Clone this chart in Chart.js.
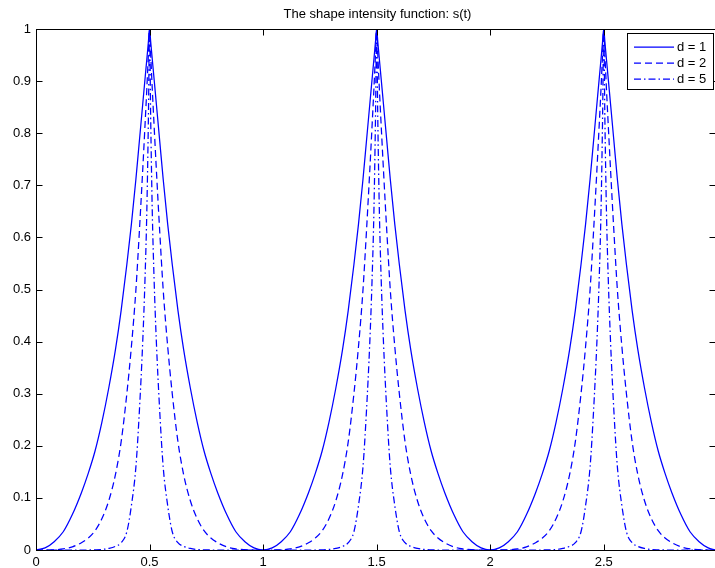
<!DOCTYPE html>
<html>
<head>
<meta charset="utf-8">
<script src="https://cdn.jsdelivr.net/npm/chart.js@4.4.0/dist/chart.umd.min.js"></script>
<style>
  html, body { margin: 0; padding: 0; background: #fff; }
</style>
</head>
<body>
<canvas id="shapeChart" width="715" height="568"></canvas>
<script>
// t values (denser near the peaks at 0.5, 1.5, 2.5)
const tValues = [
  0, 0.04, 0.08, 0.12, 0.16, 0.2, 0.23, 0.26, 0.29, 0.32, 0.35, 0.375, 0.4, 0.42, 0.44, 0.455, 0.47, 0.48, 0.488, 0.495,
  0.5, 0.505, 0.512, 0.52, 0.53, 0.545, 0.56, 0.58, 0.6, 0.625, 0.65, 0.68, 0.71, 0.74, 0.77, 0.8, 0.84, 0.88, 0.92, 0.96,
  1, 1.04, 1.08, 1.12, 1.16, 1.2, 1.23, 1.26, 1.29, 1.32, 1.35, 1.375, 1.4, 1.42, 1.44, 1.455, 1.47, 1.48, 1.488, 1.495,
  1.5, 1.505, 1.512, 1.52, 1.53, 1.545, 1.56, 1.58, 1.6, 1.625, 1.65, 1.68, 1.71, 1.74, 1.77, 1.8, 1.84, 1.88, 1.92, 1.96,
  2, 2.04, 2.08, 2.12, 2.16, 2.2, 2.23, 2.26, 2.29, 2.32, 2.35, 2.375, 2.4, 2.42, 2.44, 2.455, 2.47, 2.48, 2.488, 2.495,
  2.5, 2.505, 2.512, 2.52, 2.53, 2.545, 2.56, 2.58, 2.6, 2.625, 2.65, 2.68, 2.71, 2.74, 2.77, 2.8, 2.84, 2.88, 2.92, 2.96,
  2.99
];

// s(t) for d = 1
const d1Values = [
  0, 0.004, 0.016, 0.035, 0.068, 0.11, 0.147, 0.19, 0.245, 0.31, 0.385, 0.46, 0.548, 0.625, 0.712, 0.784, 0.856, 0.904, 0.942, 0.976,
  1, 0.976, 0.942, 0.904, 0.856, 0.784, 0.712, 0.625, 0.548, 0.46, 0.385, 0.31, 0.245, 0.19, 0.147, 0.11, 0.068, 0.035, 0.016, 0.004,
  0, 0.004, 0.016, 0.035, 0.068, 0.11, 0.147, 0.19, 0.245, 0.31, 0.385, 0.46, 0.548, 0.625, 0.712, 0.784, 0.856, 0.904, 0.942, 0.976,
  1, 0.976, 0.942, 0.904, 0.856, 0.784, 0.712, 0.625, 0.548, 0.46, 0.385, 0.31, 0.245, 0.19, 0.147, 0.11, 0.068, 0.035, 0.016, 0.004,
  0, 0.004, 0.016, 0.035, 0.068, 0.11, 0.147, 0.19, 0.245, 0.31, 0.385, 0.46, 0.548, 0.625, 0.712, 0.784, 0.856, 0.904, 0.942, 0.976,
  1, 0.976, 0.942, 0.904, 0.856, 0.784, 0.712, 0.625, 0.548, 0.46, 0.385, 0.31, 0.245, 0.19, 0.147, 0.11, 0.068, 0.035, 0.016, 0.004,
  0
];

// s(t) for d = 2
const d2Values = [
  0, 0, 0.0005, 0.002, 0.006, 0.014, 0.023, 0.037, 0.06, 0.094, 0.145, 0.208, 0.3, 0.39, 0.5, 0.61, 0.73, 0.815, 0.885, 0.952,
  1, 0.952, 0.885, 0.815, 0.73, 0.61, 0.5, 0.39, 0.3, 0.208, 0.145, 0.094, 0.06, 0.037, 0.023, 0.014, 0.006, 0.002, 0.0005, 0,
  0, 0, 0.0005, 0.002, 0.006, 0.014, 0.023, 0.037, 0.06, 0.094, 0.145, 0.208, 0.3, 0.39, 0.5, 0.61, 0.73, 0.815, 0.885, 0.952,
  1, 0.952, 0.885, 0.815, 0.73, 0.61, 0.5, 0.39, 0.3, 0.208, 0.145, 0.094, 0.06, 0.037, 0.023, 0.014, 0.006, 0.002, 0.0005, 0,
  0, 0, 0.0005, 0.002, 0.006, 0.014, 0.023, 0.037, 0.06, 0.094, 0.145, 0.208, 0.3, 0.39, 0.5, 0.61, 0.73, 0.815, 0.885, 0.952,
  1, 0.952, 0.885, 0.815, 0.73, 0.61, 0.5, 0.39, 0.3, 0.208, 0.145, 0.094, 0.06, 0.037, 0.023, 0.014, 0.006, 0.002, 0.0005, 0,
  0
];

// s(t) for d = 5
const d5Values = [
  0, 0, 0, 0, 0, 0, 0, 0.0003, 0.001, 0.003, 0.007, 0.014, 0.035, 0.085, 0.16, 0.265, 0.4, 0.52, 0.65, 0.83,
  1, 0.83, 0.65, 0.52, 0.4, 0.265, 0.16, 0.085, 0.035, 0.014, 0.007, 0.003, 0.001, 0.0003, 0, 0, 0, 0, 0, 0,
  0, 0, 0, 0, 0, 0, 0, 0.0003, 0.001, 0.003, 0.007, 0.014, 0.035, 0.085, 0.16, 0.265, 0.4, 0.52, 0.65, 0.83,
  1, 0.83, 0.65, 0.52, 0.4, 0.265, 0.16, 0.085, 0.035, 0.014, 0.007, 0.003, 0.001, 0.0003, 0, 0, 0, 0, 0, 0,
  0, 0, 0, 0, 0, 0, 0, 0.0003, 0.001, 0.003, 0.007, 0.014, 0.035, 0.085, 0.16, 0.265, 0.4, 0.52, 0.65, 0.83,
  1, 0.83, 0.65, 0.52, 0.4, 0.265, 0.16, 0.085, 0.035, 0.014, 0.007, 0.003, 0.001, 0.0003, 0, 0, 0, 0, 0, 0,
  0
];

const seriesLabels = ['d = 1', 'd = 2', 'd = 5'];
const xTickValues = [0, 0.5, 1, 1.5, 2, 2.5];
const yTickValues = [0, 0.1, 0.2, 0.3, 0.4, 0.5, 0.6, 0.7, 0.8, 0.9, 1];
const chartTitle = 'The shape intensity function: s(t)';

const FONT = '"Liberation Sans", Arial, Helvetica, sans-serif';
const toPoints = (ys) => tValues.map((t, i) => ({ x: t, y: ys[i] }));

// MATLAB-like frame: box, inward ticks, title and boxed legend
const matlabFrame = {
  id: 'matlabFrame',
  afterDraw(chart) {
    const { ctx, chartArea: a, scales } = chart;
    const L = Math.round(a.left) + 0.5, R = Math.round(a.right) + 0.5;
    const T = Math.round(a.top) + 0.5, B = Math.round(a.bottom) + 0.5;
    const tick = 6;
    ctx.save();
    ctx.strokeStyle = '#000';
    ctx.lineWidth = 1;
    ctx.setLineDash([]);
    ctx.strokeRect(L, T, R - L, B - T);
    ctx.beginPath();
    yTickValues.forEach(v => {
      const y = Math.round(scales.y.getPixelForValue(v)) + 0.5;
      ctx.moveTo(L, y); ctx.lineTo(L + tick, y);
      ctx.moveTo(R, y); ctx.lineTo(R - tick, y);
    });
    xTickValues.forEach(v => {
      const x = Math.round(scales.x.getPixelForValue(v)) + 0.5;
      ctx.moveTo(x, B); ctx.lineTo(x, B - tick);
      ctx.moveTo(x, T); ctx.lineTo(x, T + tick);
    });
    ctx.stroke();

    // title
    ctx.fillStyle = '#000';
    ctx.font = '13px ' + FONT;
    ctx.textAlign = 'center';
    ctx.textBaseline = 'alphabetic';
    ctx.fillText(chartTitle, (a.left + a.right) / 2 + 2, 18);

    // legend
    const lx = 627.5, ly = 33.5, lw = 86, lh = 56;
    ctx.fillStyle = '#fff';
    ctx.fillRect(lx, ly, lw, lh);
    ctx.strokeStyle = '#000';
    ctx.strokeRect(lx, ly, lw, lh);
    ctx.textAlign = 'left';
    ctx.textBaseline = 'middle';
    chart.data.datasets.forEach((ds, i) => {
      const y = Math.round(ly + 13 + i * 16.3);
      ctx.strokeStyle = ds.borderColor;
      ctx.lineWidth = ds.borderWidth;
      ctx.setLineDash(ds.borderDash || []);
      ctx.beginPath();
      ctx.moveTo(634, y);
      ctx.lineTo(674, y);
      ctx.stroke();
      ctx.setLineDash([]);
      ctx.fillStyle = '#000';
      ctx.fillText(ds.label, 677, y + 0.5);
    });
    ctx.restore();
  }
};

const ctx = document.getElementById('shapeChart').getContext('2d');
new Chart(ctx, {
  type: 'line',
  data: {
    datasets: [
      { label: seriesLabels[0], data: toPoints(d1Values), borderColor: '#0000ff', borderWidth: 1.25, borderDash: [] },
      { label: seriesLabels[1], data: toPoints(d2Values), borderColor: '#0000ff', borderWidth: 1.25, borderDash: [7, 4] },
      { label: seriesLabels[2], data: toPoints(d5Values), borderColor: '#0000ff', borderWidth: 1.25, borderDash: [7, 3, 1.5, 3] }
    ]
  },
  options: {
    responsive: false,
    animation: false,
    elements: {
      point: { radius: 0 },
      line: { cubicInterpolationMode: 'monotone', fill: false }
    },
    layout: { padding: { top: 29, left: 0, right: 0, bottom: 0 } },
    plugins: {
      legend: { display: false },
      tooltip: { enabled: false },
      title: { display: false }
    },
    scales: {
      x: {
        type: 'linear',
        min: 0,
        max: 2.99,
        grid: { display: false, drawTicks: false },
        border: { display: false },
        afterBuildTicks: (axis) => { axis.ticks = xTickValues.map(v => ({ value: v })); },
        afterFit: (axis) => { axis.height = 18; },
        ticks: {
          color: '#000',
          font: { family: FONT, size: 13 },
          padding: 5,
          maxRotation: 0,
          autoSkip: false,
          callback: (v) => String(v)
        }
      },
      y: {
        type: 'linear',
        min: 0,
        max: 1,
        grid: { display: false, drawTicks: false },
        border: { display: false },
        afterBuildTicks: (axis) => { axis.ticks = yTickValues.map(v => ({ value: v })); },
        afterFit: (axis) => { axis.width = 36; },
        ticks: {
          color: '#000',
          font: { family: FONT, size: 13 },
          padding: 5,
          autoSkip: false,
          callback: (v) => String(v)
        }
      }
    }
  },
  plugins: [matlabFrame]
});
</script>
</body>
</html>
